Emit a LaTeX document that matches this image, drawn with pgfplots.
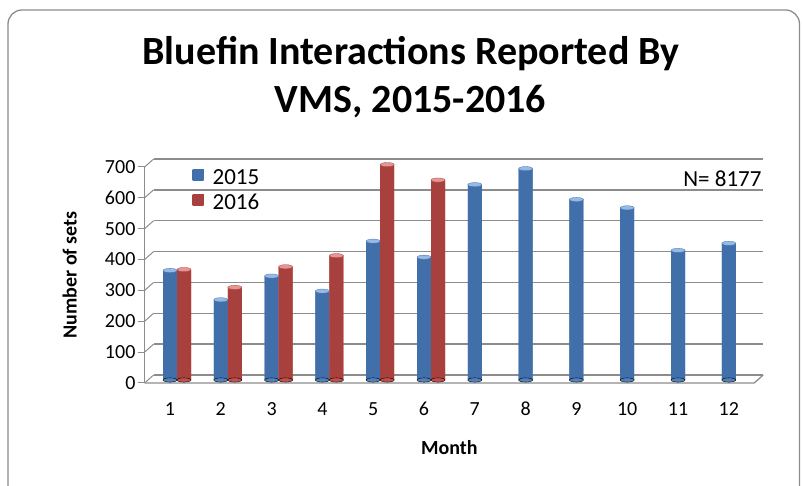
\documentclass[border=0pt]{standalone}
\usepackage{fontspec}
\setmainfont{Carlito}
\usepackage{pgfplots}
\pgfplotsset{compat=1.18}
\usepackage{pgfplotstable}

\definecolor{bluemid}{HTML}{4F81BD}
\definecolor{bluedark}{HTML}{416FAA}
\definecolor{bluelight}{HTML}{7DA8DE}
\definecolor{redmid}{HTML}{C0504D}
\definecolor{reddark}{HTML}{A8403D}
\definecolor{redlight}{HTML}{DE7A77}
\definecolor{gridgray}{HTML}{8C8C8C}

\pgfplotstableread{
month v
1 355
2 260
3 337
4 288
5 450
6 398
7 633
8 685
9 585
10 558
11 420
12 443
}\dataA

\pgfplotstableread{
month v
1 358
2 300
3 367
4 403
5 698
6 648
}\dataB

\begin{document}
\begin{tikzpicture}[x=1pt,y=1pt]
\useasboundingbox (0,0) rectangle (802,486);
\draw[rounded corners=14pt, draw=black!45, line width=1.3pt] (8,-20) rectangle (799.5,476);
\node[anchor=base, font=\fontsize{40}{48}\selectfont\bfseries] at (411,421) {Bluefin Interactions Reported By};
\node[anchor=base, font=\fontsize{40}{48}\selectfont\bfseries] at (410.5,373) {VMS, 2015-2016};
\begin{axis}[
  at={(144.6pt,103pt)}, anchor=south west,
  scale only axis, width=609.6pt, height=216pt,
  xmin=0.5, xmax=12.5, ymin=0, ymax=700,
  clip=false,
  axis line style={draw=none},
  xtick={1,...,12}, ytick={0,100,...,700},
  tickpos=left, tick align=outside, major tick length=7pt,
  xtick style={draw=none},
  ytick style={draw=gridgray, line width=1pt},
  ymajorgrids,
  major grid style={draw=gridgray, line width=1.3pt, xshift=9pt, yshift=8pt},
  /pgf/number format/assume math mode=true,
  ticklabel style={font=\fontsize{20}{22}\selectfont},
  yticklabel style={inner sep=0pt, xshift=-2pt},
  xticklabel style={inner sep=0pt, anchor=north, yshift=-12pt},
  xlabel={Month}, ylabel={Number of sets},
  every axis x label/.style={at={(axis description cs:0.5,0)}, yshift=-65pt, anchor=center,
    font=\fontsize{20}{22}\selectfont\bfseries},
  every axis y label/.style={at={(axis description cs:0,0.5)}, xshift=-75pt, rotate=90, anchor=center,
    font=\fontsize{20}{22}\selectfont\bfseries},
  legend style={draw=none, fill=none, at={(axis description cs:0.0785,0.998)}, anchor=north west,
    font=\fontsize{23}{25}\selectfont, row sep=4pt, inner sep=0pt,
    /tikz/every odd column/.append style={column sep=7pt}},
  legend cell align=left,
  legend image code/.code={\fill[#1] (0pt,-5.5pt) rectangle (11pt,5.5pt);},
]
% floor and left wall edges
\draw[gridgray, line width=1.3pt] (axis cs:0.5,0) -- (axis cs:12.5,0) -- ++(9pt,8pt);
\draw[gridgray, line width=1.3pt] (axis cs:0.5,0) -- (axis cs:0.5,700);
\pgfplotsinvokeforeach{0,100,200,300,400,500,600,700}{
  \draw[gridgray, line width=1pt] (axis cs:0.5,#1) -- ++(9pt,8pt);
}
% bars
\addplot[ybar, bar width=14pt, bar shift=0pt, draw=none, yshift=3pt,
  left color=bluedark, middle color=bluelight, right color=bluedark, fill=bluemid]
  table[x=month, y=v] {\dataA};
\addlegendentry{2015}
\addplot[ybar, bar width=14pt, bar shift=14pt, draw=none, yshift=3pt,
  left color=reddark, middle color=redlight, right color=reddark, fill=redmid]
  table[x=month, y=v] {\dataB};
\addlegendentry{2016}
% cylinder bottoms and tops
\addplot[only marks, mark=*, mark size=7pt, forget plot, yshift=3pt,
  mark options={yscale=0.3, fill=bluemid, draw=none}]
  table[x=month, y expr=0] {\dataA};
\addplot[only marks, mark=*, mark size=7pt, forget plot, yshift=3pt,
  mark options={yscale=0.3, fill=redmid, draw=none}]
  table[x expr=\thisrow{month}+0.2756, y expr=0] {\dataB};
\addplot[only marks, mark=*, mark size=7pt, forget plot, yshift=3pt,
  mark options={yscale=0.3, fill=bluelight!80!white, draw=bluedark, line width=0.3pt}]
  table[x=month, y=v] {\dataA};
\addplot[only marks, mark=*, mark size=7pt, forget plot, yshift=3pt,
  mark options={yscale=0.3, fill=redlight!80!white, draw=reddark, line width=0.3pt}]
  table[x expr=\thisrow{month}+0.2756, y=v] {\dataB};
\node[anchor=base east, font=\fontsize{23}{25}\selectfont] at (axis description cs:1.0177,0.912) {N= 8177};
\end{axis}
\end{tikzpicture}
\end{document}
